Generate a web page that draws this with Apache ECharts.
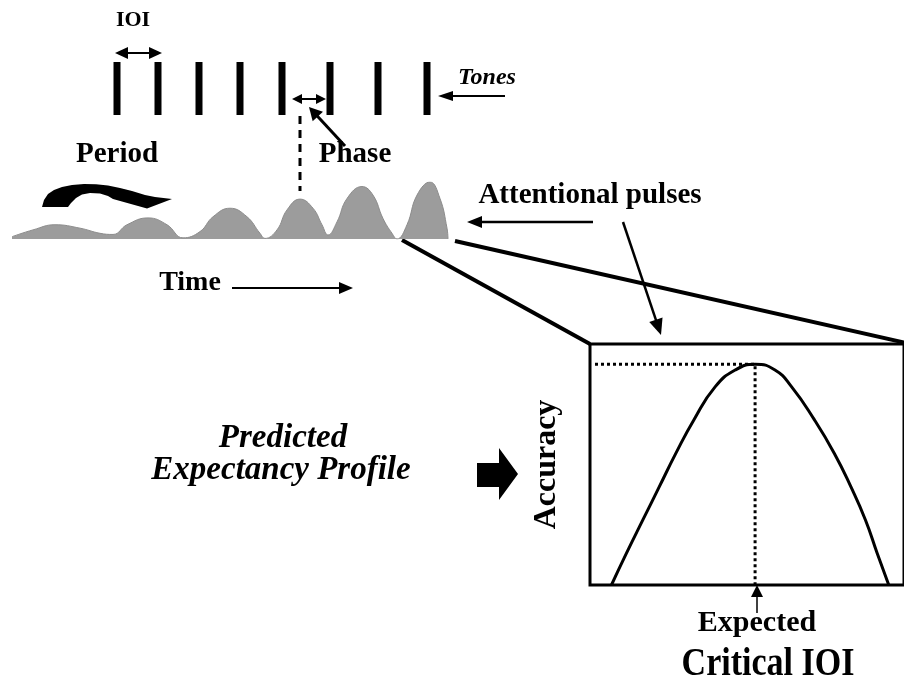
<!DOCTYPE html>
<html>
<head>
<meta charset="utf-8">
<script src="https://cdn.jsdelivr.net/npm/echarts@6/dist/echarts.min.js"></script>
<style>
html, body { margin: 0; padding: 0; background: #fff; }
#main { width: 904px; height: 684px; }
</style>
</head>
<body>
<div id="main"></div>
<script>
/* tone onsets (ms) */
var toneOnsets = [1050, 1460, 1870, 2280, 2700, 3180, 3660, 4150];

/* attentional pulse envelope: time (ms) / relative strength */
var pulseTimes = [0, 210, 430, 680, 880, 1010,
    1150, 1360, 1550, 1710,
    1880, 2010, 2180, 2350, 2480, 2530,
    2650, 2750, 2880, 3010, 3100, 3160,
    3250, 3350, 3500, 3610, 3710, 3800, 3850,
    3950, 4050, 4180, 4280, 4350, 4360];
var pulseLevels = [0.04, 0.16, 0.25, 0.19, 0.10, 0.08,
    0.25, 0.37, 0.25, 0.02,
    0.13, 0.39, 0.54, 0.39, 0.10, 0.01,
    0.16, 0.51, 0.70, 0.54, 0.25, 0.07,
    0.30, 0.71, 0.92, 0.77, 0.36, 0.10, 0,
    0.25, 0.77, 1.0, 0.71, 0.19, 0];

/* expectancy profile: critical IOI (relative) / accuracy */
var ioiValues = [6.9, 11.7, 17.0, 22.3, 27.6, 33.4, 40.3, 46.7, 53.1, 59.5, 64.8, 72.2, 78.6, 83.9, 88.6, 92.4, 96.1];
var accuracy = [0, 0.131, 0.270, 0.408, 0.546, 0.685, 0.823, 0.892, 0.916, 0.892, 0.823, 0.685, 0.546, 0.408, 0.270, 0.131, 0];
var expectedIoi = 53.1;
var peakAccuracy = 0.916;

var serif = '"Liberation Serif", "Times New Roman", serif';

function zip(a, b) {
    var res = [];
    for (var i = 0; i < a.length; i++) {
        res.push([a[i], b[i]]);
    }
    return res;
}

function head(x1, y1, x2, y2, len, half) {
    var a = Math.atan2(y2 - y1, x2 - x1);
    var bx = x2 - len * Math.cos(a), by = y2 - len * Math.sin(a);
    return {
        type: 'polygon',
        shape: {points: [[x2, y2], [bx - half * Math.sin(a), by + half * Math.cos(a)], [bx + half * Math.sin(a), by - half * Math.cos(a)]]},
        style: {fill: '#000'}
    };
}

function seg(x1, y1, x2, y2, w, dash) {
    return {
        type: 'line',
        shape: {x1: x1, y1: y1, x2: x2, y2: y2},
        style: {stroke: '#000', lineWidth: w, lineDash: dash || null}
    };
}

function arrow(x1, y1, x2, y2, w, len, half) {
    var a = Math.atan2(y2 - y1, x2 - x1);
    return [
        seg(x1, y1, x2 - len * 0.7 * Math.cos(a), y2 - len * 0.7 * Math.sin(a), w),
        head(x1, y1, x2, y2, len, half)
    ];
}

function doubleArrow(x1, x2, y, w, len, half) {
    return [
        seg(x1 + len * 0.7, y, x2 - len * 0.7, y, w),
        head(x2, y, x1, y, len, half),
        head(x1, y, x2, y, len, half)
    ];
}

function label(text, x, y, size, italic, sy) {
    return {
        type: 'text',
        x: x,
        y: y,
        scaleY: sy || 1,
        style: {
            text: text,
            fontFamily: serif,
            fontWeight: 'bold',
            fontStyle: italic ? 'italic' : 'normal',
            fontSize: size,
            fill: '#000',
            align: 'center',
            verticalAlign: 'middle'
        }
    };
}

// curved "period" arrow outline
var periodArrow = [
    [42, 207], [44, 200], [48, 194], [54, 190], [62, 187], [72, 185], [84, 184], [96, 184.3],
    [108, 185.5], [120, 188], [132, 191], [145, 195], [155, 197],
    [172, 199], [147, 208.5], [113, 199],
    [108, 196], [100, 193.5], [90, 193], [82, 194.5], [76, 198], [71, 203], [68, 207]
];

var graphics = [].concat(
    label('IOI', 133, 20, 22),
    doubleArrow(115, 162, 53, 2, 13, 6),
    label('Tones', 487, 78, 24, true),
    arrow(505, 96, 438, 96, 2, 15, 5),
    doubleArrow(292, 326, 99, 2, 10, 5),
    arrow(345, 146, 309, 107, 3, 13, 7),
    seg(300, 116, 300, 191, 3, [8, 6]),
    label('Period', 117, 155, 29),
    label('Phase', 355, 155, 29),
    {type: 'polygon', shape: {points: periodArrow}, style: {fill: '#000'}},
    label('Attentional pulses', 590, 196, 29),
    arrow(593, 222, 467, 222, 2.5, 15, 6),
    arrow(623, 222, 661, 335, 2.5, 16, 7),
    seg(402, 240, 590, 344, 4),
    seg(455, 241, 906, 343, 4),
    label('Time', 190, 283, 28),
    arrow(232, 288, 353, 288, 2, 14, 6),
    label('Predicted', 283, 438, 33, true),
    label('Expectancy Profile', 281, 470, 33, true),
    {
        type: 'polygon',
        shape: {points: [[477, 463], [499, 463], [499, 448], [518, 474], [499, 500], [499, 487], [477, 487]]},
        style: {fill: '#000'}
    },
    arrow(757, 613, 757, 585, 1.5, 12, 6),
    label('Expected', 757, 623, 30),
    label('Critical IOI', 768, 664, 34, false, 1.2)
);

var option = {
    backgroundColor: '#fff',
    animation: false,
    grid: [
        {left: 12, top: 62, width: 436, height: 53},
        {left: 12, top: 182, width: 436, height: 57},
        {left: 590, top: 344, width: 317, height: 241, show: true, borderColor: '#000', borderWidth: 3}
    ],
    xAxis: [
        {gridIndex: 0, type: 'value', min: 0, max: 4360, show: false},
        {gridIndex: 1, type: 'value', min: 0, max: 4360, show: false},
        {gridIndex: 2, type: 'value', min: 0, max: 101, show: false}
    ],
    yAxis: [
        {gridIndex: 0, type: 'value', min: 0, max: 1, show: false},
        {gridIndex: 1, type: 'value', min: 0, max: 1, show: false},
        {
            gridIndex: 2, type: 'value', min: 0, max: 1,
            name: 'Accuracy',
            nameLocation: 'middle',
            nameGap: 27,
            nameTextStyle: {fontFamily: serif, fontWeight: 'bold', fontSize: 32, color: '#000'},
            axisLine: {show: false},
            axisTick: {show: false},
            axisLabel: {show: false},
            splitLine: {show: false}
        }
    ],
    series: [
        {
            name: 'Tones',
            type: 'bar',
            xAxisIndex: 0,
            yAxisIndex: 0,
            barWidth: 7,
            itemStyle: {color: '#000'},
            data: toneOnsets.map(function (t) { return [t, 1]; })
        },
        {
            name: 'Attentional pulses',
            type: 'line',
            xAxisIndex: 1,
            yAxisIndex: 1,
            smooth: 0.45,
            symbol: 'none',
            lineStyle: {color: '#8c8c8c', width: 1},
            areaStyle: {color: '#9c9c9c', opacity: 1},
            data: zip(pulseTimes, pulseLevels)
        },
        {
            name: 'Expectancy',
            type: 'line',
            xAxisIndex: 2,
            yAxisIndex: 2,
            smooth: true,
            symbol: 'none',
            lineStyle: {color: '#000', width: 3},
            data: zip(ioiValues, accuracy)
        },
        {
            name: 'Peak',
            type: 'line',
            xAxisIndex: 2,
            yAxisIndex: 2,
            symbol: 'none',
            lineStyle: {color: '#000', width: 3, type: [3, 3]},
            data: [[1.6, peakAccuracy], [expectedIoi, peakAccuracy], [expectedIoi, 0]]
        }
    ],
    graphic: graphics
};

var myChart = echarts.init(document.getElementById('main'));
myChart.setOption(option);
</script>
</body>
</html>
